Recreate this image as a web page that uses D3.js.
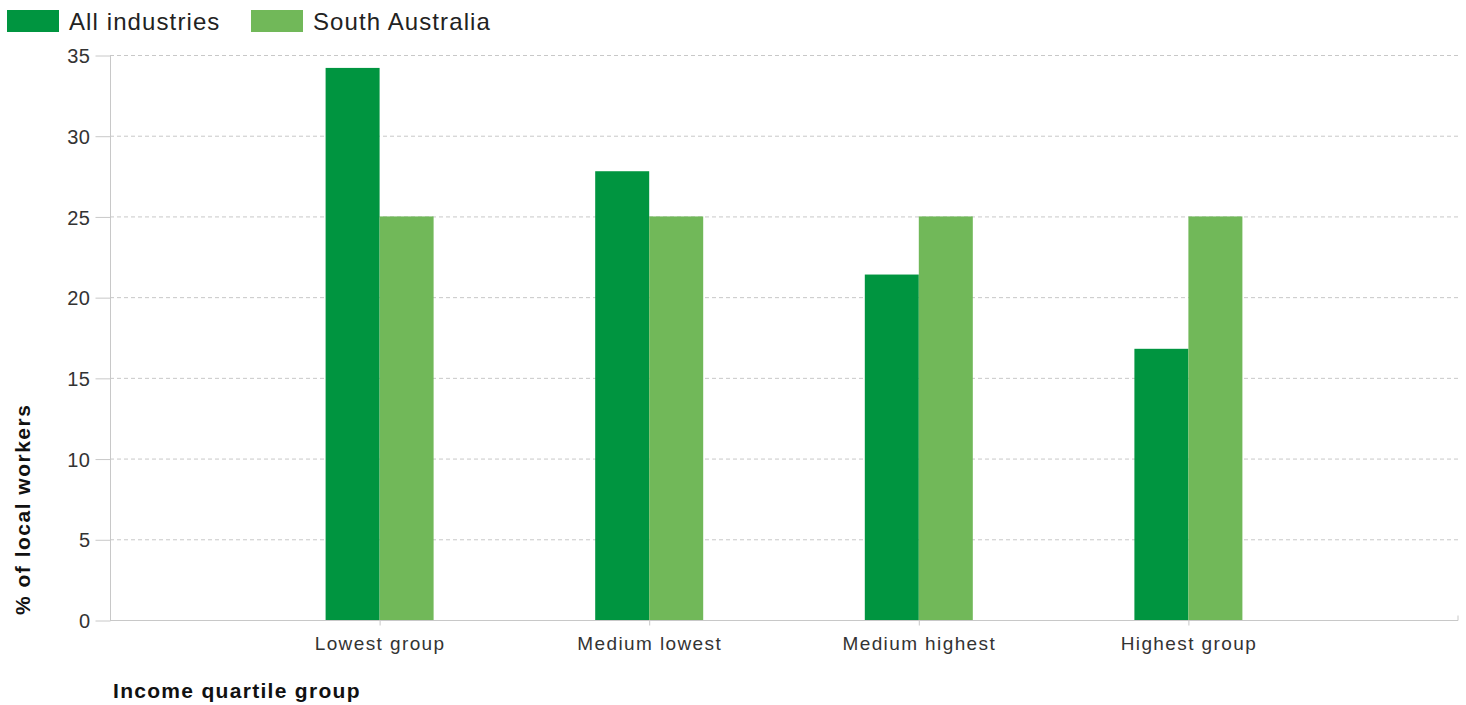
<!DOCTYPE html>
<html><head><meta charset="utf-8">
<script src="https://cdn.jsdelivr.net/npm/d3@7"></script>
<style>
html,body{margin:0;padding:0;background:#fff;}
svg{display:block;font-family:"Liberation Sans",Arial,sans-serif;}
</style></head>
<body>
<script>
const categories = ["Lowest group", "Medium lowest", "Medium highest", "Highest group"];
const seriesNames = ["All industries", "South Australia"];
const allIndustries = [34.2, 27.8, 21.4, 16.8];
const southAustralia = [25.0, 25.0, 25.0, 25.0];
const yTicks = [0, 5, 10, 15, 20, 25, 30, 35];
const colors = ["#009540", "#71b859"];

(function () {
const W = 1466, H = 705;
const mLeft = 110, mRight = 1458, mTop = 55, mBottom = 620;
const svg = d3.select("body").append("svg").attr("width", W).attr("height", H);

const x = d3.scalePoint().domain(categories).range([mLeft, mRight]).padding(1);
const y = d3.scaleLinear().domain([0, 35]).range([mBottom, mTop]);
const sub = d3.scaleBand().domain(seriesNames).range([-54, 54]);

// gridlines
svg.append("g").selectAll("line").data(yTicks.filter(d => d > 0)).join("line")
  .attr("x1", mLeft).attr("x2", mRight)
  .attr("y1", d => y(d) + 0.5).attr("y2", d => y(d) + 0.5)
  .attr("stroke", "#c8c8c8").attr("stroke-dasharray", "4,3");

// y axis
const yAxis = d3.axisLeft(y).tickValues(yTicks).tickSize(15).tickPadding(5);
const gy = svg.append("g").attr("transform", `translate(${mLeft + 0.5},0.5)`).call(yAxis);
gy.select(".domain").attr("stroke", "#c8c8c8").attr("d", `M0,${mTop}V${mBottom}`);
gy.selectAll(".tick line").attr("stroke", "#c8c8c8");
gy.selectAll(".tick text").attr("fill", "#333").attr("font-size", 20)
  .attr("font-family", "Liberation Sans, Arial, sans-serif").attr("dy", "0.36em")
  .attr("letter-spacing", "0.5px");

// bars
const series = [allIndustries, southAustralia];
series.forEach((vals, si) => {
  svg.append("g").selectAll("rect").data(vals).join("rect")
    .attr("x", (d, i) => x(categories[i]) + sub(seriesNames[si]))
    .attr("width", sub.bandwidth())
    .attr("y", d => y(d))
    .attr("height", d => y(0) - y(d))
    .attr("fill", colors[si]);
});

// x axis
const xAxis = d3.axisBottom(x).tickSize(5).tickPadding(10);
const gx = svg.append("g").attr("transform", `translate(0,${mBottom + 0.5})`).call(xAxis);
gx.select(".domain").attr("stroke", "#c8c8c8").attr("d", `M${mLeft},0H${mRight}V-5`);
gx.selectAll(".tick line").attr("stroke", "#c8c8c8");
gx.selectAll(".tick text").attr("fill", "#333").attr("font-size", 19)
  .attr("font-family", "Liberation Sans, Arial, sans-serif")
  .attr("letter-spacing", "1.4px").attr("y", 29).attr("dy", 0);

// axis titles
svg.append("text").attr("transform", "translate(30,615) rotate(-90)")
  .attr("font-size", 21).attr("font-weight", "bold").attr("fill", "#111")
  .attr("letter-spacing", "1.5px")
  .text("% of local workers");
svg.append("text").attr("x", 113).attr("y", 698)
  .attr("font-size", 21).attr("font-weight", "bold").attr("fill", "#111")
  .attr("letter-spacing", "1.3px")
  .text("Income quartile group");

// legend
const leg = svg.append("g");
const legX = [7, 251];
seriesNames.forEach((n, i) => {
  leg.append("rect").attr("x", legX[i]).attr("y", 10).attr("width", 52).attr("height", 22).attr("fill", colors[i]);
  leg.append("text").attr("x", legX[i] + 62).attr("y", 30).attr("font-size", 24).attr("fill", "#222")
    .attr("letter-spacing", "1.1px").text(n);
});
})();
</script>
</body></html>
